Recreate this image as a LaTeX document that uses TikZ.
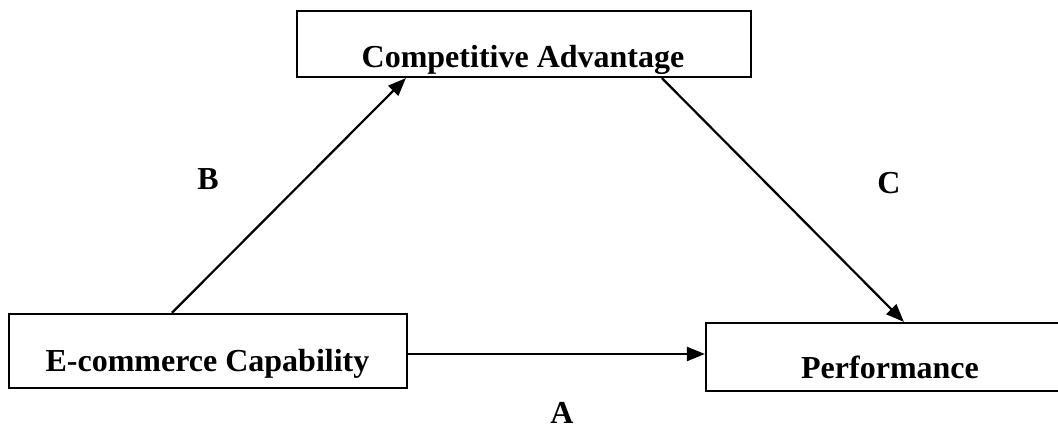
\documentclass[tikz,border=0pt]{standalone}
\usepackage{fontspec}
\setmainfont{Liberation Serif}
\usetikzlibrary{arrows.meta,calc}
\begin{document}
\begin{tikzpicture}[x=1pt,y=-1pt,
  box/.style={draw=black,line width=2.2pt,rectangle,inner sep=0pt,minimum width=#1},
  lbl/.style={font=\fontsize{32}{38}\selectfont\bfseries,inner sep=0pt,anchor=base},
  conn/.style={line width=2.2pt,-{Triangle[length=18pt,width=14pt]}}
]
\useasboundingbox (0,0) rectangle (1058,430);
% boxes
\node[box=398pt,minimum height=74pt] (ec) at (208,351) {};
\node[box=454pt,minimum height=66pt] (ca) at (524,44) {};
\node[box=369pt,minimum height=68pt] (pf) at (890.5,357) {};
% box texts
\node[lbl] (ectxt) at (207.5,371) {E-commerce Capability};
\begin{scope}
  \clip ($(ca.south west)+(1pt,-1pt)$) rectangle ($(ca.north east)+(-1pt,1pt)$);
  \node[lbl] (catxt) at (523,68) {Competitive Advantage};
\end{scope}
\node[lbl] (pftxt) at (890,379) {Performance};
% connector anchor points
\coordinate (bstart) at ($(ec.north west)+(164pt,0)$);
\coordinate (bend) at ($(ca.south west)+(110pt,0)$);
\coordinate (cstart) at ($(ca.south west)+(366pt,0)$);
\coordinate (cend) at ($(pf.north west)+(199pt,0)$);
\coordinate (astart) at ($(ec.east)+(0,-3pt)$);
% connectors
\draw[conn] (bstart) -- (bend);
\draw[conn] (cstart) -- (cend);
\draw[conn] (astart) -- (astart -| pf.west);
% path labels
\node[lbl] (lb) at (208,190) {B};
\node[lbl] (lc) at (889,194) {C};
\node[lbl] (la) at (562,424) {A};
\end{tikzpicture}
\end{document}
